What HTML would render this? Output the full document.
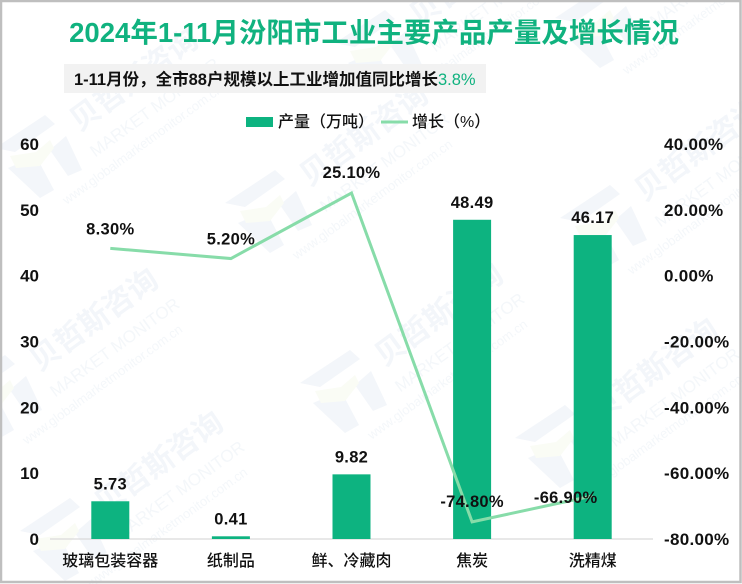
<!DOCTYPE html>
<html lang="zh">
<head>
<meta charset="utf-8">
<title>2024年1-11月汾阳市工业主要产品产量及增长情况</title>
<style>
html,body{margin:0;padding:0;background:#fff;overflow:hidden}
#frame{position:relative;width:742px;height:584px;box-sizing:border-box;overflow:hidden;background:#fff}
svg{position:absolute;left:0;top:0;display:block}
text{font-family:"Liberation Sans","Noto Sans CJK SC",sans-serif}
</style>
</head>
<body>
<div id="frame">
<svg id="chart" width="742" height="584" viewBox="0 0 742 584" xmlns="http://www.w3.org/2000/svg">
  <g id="watermarks"></g>
  <rect x="1" y="1" width="739.5" height="581" fill="none" stroke="#bfbfbf" stroke-width="2.5"/>
  <text x="374" y="42" text-anchor="middle" font-size="27.5" font-weight="700" fill="#10b27f">2024年1-11月汾阳市工业主要产品产量及增长情况</text>
  <rect x="64" y="64" width="422" height="29" fill="#f2f2f2"/>
  <text x="74" y="85" font-size="16.5" font-weight="700" fill="#111">1-11月份，全市88户规模以上工业增加值同比增长<tspan fill="#10b27f" font-weight="400">3.8%</tspan></text>
  <rect x="246" y="117" width="27" height="10" fill="#0db380"/>
  <text x="278" y="127" font-size="16" font-weight="500" fill="#111">产量（万吨）</text>
  <line x1="381" y1="122" x2="408" y2="122" stroke="#87dca9" stroke-width="3"/>
  <text x="412" y="127" font-size="16" font-weight="500" fill="#111">增长（%）</text>
  <g id="axes"></g>
  <g id="bars"></g>
  <g id="line"></g>
  <g id="labels"></g>
</svg>
</div>
<script>
var categories = ["玻璃包装容器", "纸制品", "鲜、冷藏肉", "焦炭", "洗精煤"];
var outputValues = [5.73, 0.41, 9.82, 48.49, 46.17];
var growthValues = [8.3, 5.2, 25.1, -74.8, -66.9];
var leftTicks = [0, 10, 20, 30, 40, 50, 60];
var rightTicks = [-80, -60, -40, -20, 0, 20, 40];

var NS = "http://www.w3.org/2000/svg";
var plotLeft = 50, plotRight = 653, plotTop = 144, plotBottom = 539;
var barWidth = 38;
var watermarkTiles = [[40,160],[270,215],[345,395],[0,400],[65,543],[605,230],[380,55],[600,30],[560,450]];
var growthLabelOffsets = [[0,-14],[0,-14],[0,-15],[0,-15],[-27,7]];

function xScale(i) {
  return plotLeft + (plotRight - plotLeft) * (i + 0.5) / categories.length;
}
function yLeft(v) {
  var min = leftTicks[0], max = leftTicks[leftTicks.length - 1];
  return plotBottom - (v - min) / (max - min) * (plotBottom - plotTop);
}
function yRight(v) {
  var min = rightTicks[0], max = rightTicks[rightTicks.length - 1];
  return plotBottom - (v - min) / (max - min) * (plotBottom - plotTop);
}
function make(tag, parent, props, content) {
  var el = document.createElementNS(NS, tag);
  for (var k in props) { el.setAttribute(k, props[k]); }
  if (content !== undefined) { el.textContent = content; }
  parent.appendChild(el);
  return el;
}

var axes = document.getElementById("axes");
var bars = document.getElementById("bars");
var line = document.getElementById("line");
var labels = document.getElementById("labels");
var wm = document.getElementById("watermarks");
var el;

watermarkTiles.forEach(function (t) {
  var g = make("g", wm, {transform: "translate(" + t[0] + "," + t[1] + ")"});
  
  
  el = make("path", g, {d: "M-45,-12 L5,-45 L15,-36 L-25,-8 Z M-32,8 L-4,-4 L14,30 L0,38 Z", fill: "#f3f6fa"});
  
  
  el = make("path", g, {d: "M10,-10 L26,-24 L42,10 L28,16 Z", fill: "#f3f6fa"});
  
  
  el = make("path", g, {d: "M-30,-4 L-4,-8 L10,-20 L14,-12 L0,6 L-24,8 Z", fill: "#fafcf5"});
  
  
  el = make("text", g, {transform: "translate(100,-72) rotate(-36)", "text-anchor": "middle", "font-size": "30", "font-weight": "700", fill: "#f3f6fa"}, "贝哲斯咨询");
  
  
  el = make("text", g, {transform: "translate(118,-48) rotate(-36)", "text-anchor": "middle", "font-size": "17", fill: "#f4f7fa"}, "MARKET MONITOR");
  
  
  el = make("text", g, {transform: "translate(105,-12) rotate(-36)", "text-anchor": "middle", "font-size": "13", fill: "#f4f7fa"}, "www.globalmarketmonitor.com.cn");
  
  
});

el = make("line", axes, {x1: plotLeft, x2: plotRight, y1: plotBottom, y2: plotBottom, stroke: "#d9d9d9", "stroke-width": 1.2});



leftTicks.forEach(function (v) {
  el = make("text", axes, {x: 39, y: yLeft(v) + 6, "text-anchor": "end", "font-size": "17", "font-weight": "700", fill: "#111"}, String(v));
  
  
});
rightTicks.forEach(function (v) {
  el = make("text", axes, {x: 664, y: yRight(v) + 6, "font-size": "17", "font-weight": "700", "letter-spacing": "0.3", fill: "#111"}, v.toFixed(2) + "%");
  
  
});
categories.forEach(function (c, i) {
  el = make("text", axes, {x: xScale(i), y: 566, "text-anchor": "middle", "font-size": "16", "font-weight": "500", fill: "#111"}, c);
  
  
});

outputValues.forEach(function (v, i) {
  el = make("rect", bars, {x: xScale(i) - barWidth / 2, y: yLeft(v), width: barWidth, height: yLeft(0) - yLeft(v), fill: "#0db380"});
  
  
  el = make("text", labels, {x: xScale(i), y: yLeft(v) - 12, "text-anchor": "middle", "font-size": "16.5", "font-weight": "700", "letter-spacing": "0.3", fill: "#111"}, v.toFixed(2));
  
  
});

var points = growthValues.map(function (v, i) {
  return xScale(i) + "," + yRight(v);
}).join(" ");
el = make("polyline", line, {points: points, fill: "none", stroke: "#87dca9", "stroke-width": 3, "stroke-linejoin": "miter"});



growthValues.forEach(function (v, i) {
  var off = growthLabelOffsets[i];
  el = make("text", labels, {x: xScale(i) + off[0], y: yRight(v) + off[1], "text-anchor": "middle", "font-size": "16.5", "font-weight": "700", "letter-spacing": "0.3", fill: "#111"}, v.toFixed(2) + "%");
  
  
});
</script>
</body>
</html>
